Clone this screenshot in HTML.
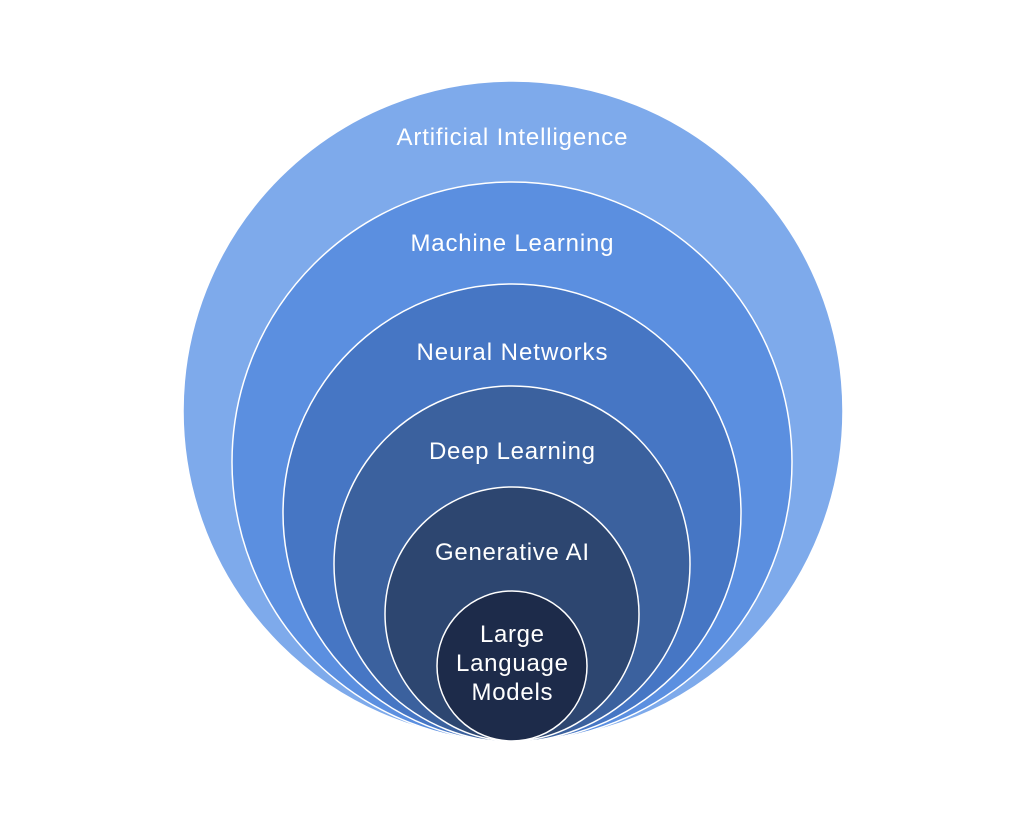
<!DOCTYPE html>
<html><head><meta charset="utf-8"><style>
html,body{margin:0;padding:0;background:#fff;width:1024px;height:820px;overflow:hidden}
</style></head><body>
<svg width="1024" height="820" viewBox="0 0 1024 820" xmlns="http://www.w3.org/2000/svg">
<g stroke="#ffffff" stroke-width="1.5">
<circle cx="513" cy="411" r="330" fill="#7eaaeb"/>
<circle cx="512" cy="462" r="280" fill="#5b8fe0"/>
<circle cx="512" cy="513" r="229" fill="#4676c4"/>
<circle cx="512" cy="564" r="178" fill="#3b619e"/>
<circle cx="512" cy="614" r="127" fill="#2d4670"/>
<circle cx="512" cy="666" r="75" fill="#1d2b4a"/>
</g>
<g fill="#ffffff" font-family="Liberation Sans, sans-serif" font-size="24" text-anchor="middle">
<text x="512" y="145" textLength="231" lengthAdjust="spacing">Artificial Intelligence</text>
<text x="512" y="251" textLength="203" lengthAdjust="spacing">Machine Learning</text>
<text x="512" y="360" textLength="191" lengthAdjust="spacing">Neural Networks</text>
<text x="512" y="459" textLength="166" lengthAdjust="spacing">Deep Learning</text>
<text x="512" y="560" textLength="154" lengthAdjust="spacing">Generative AI</text>
<text x="512" y="642" textLength="64" lengthAdjust="spacing">Large</text>
<text x="512" y="671" textLength="112" lengthAdjust="spacing">Language</text>
<text x="512" y="700" textLength="81" lengthAdjust="spacing">Models</text>
</g>
</svg>
</body></html>
